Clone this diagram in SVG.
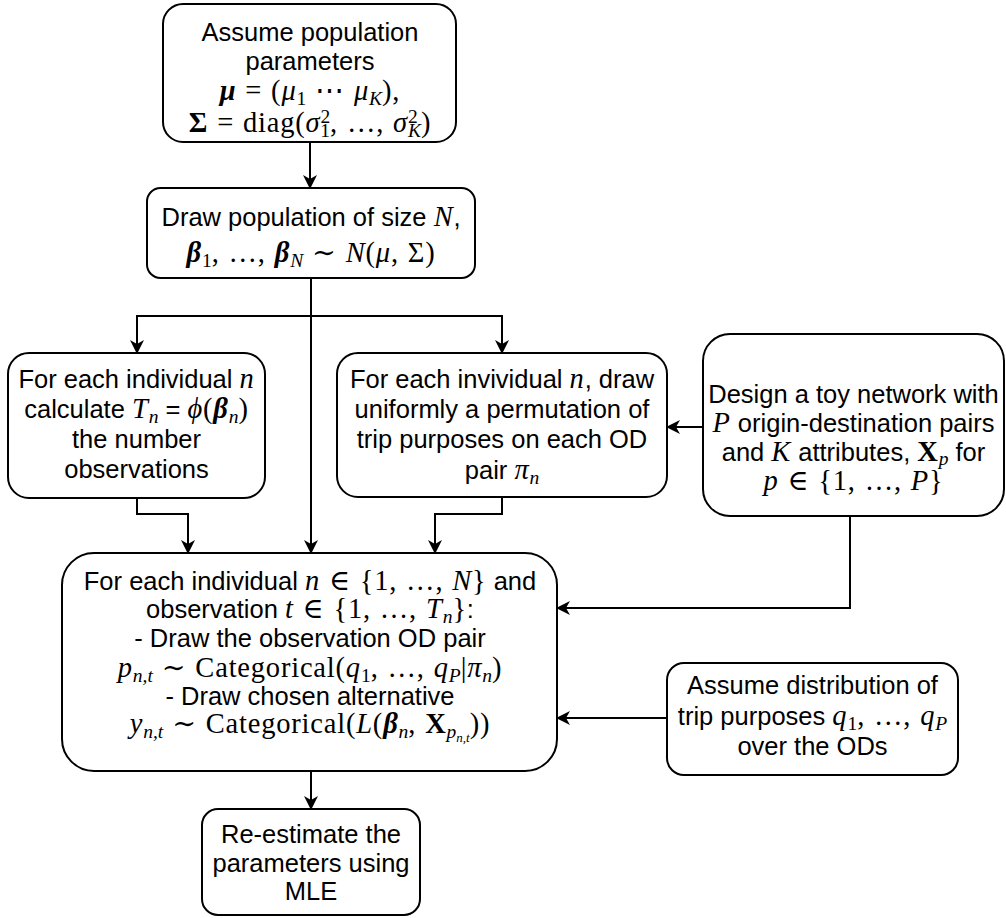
<svg xmlns="http://www.w3.org/2000/svg" width="1006" height="918" viewBox="0 0 1006 918">
<style>
.box{fill:#fff;stroke:#000;stroke-width:2}
.ln{fill:none;stroke:#000;stroke-width:2}
.t{font-family:"Liberation Sans",Arial,sans-serif;font-size:25.5px;fill:#000;text-anchor:middle}
.m{font-family:"Liberation Serif","DejaVu Serif",serif;font-size:28.5px;letter-spacing:0.8px;word-spacing:1px}
.i{font-style:italic}
.b{font-weight:bold}
.s{font-size:19.5px;letter-spacing:0}
</style>
<defs>
<marker id="arr" markerUnits="userSpaceOnUse" viewBox="0 0 14 14" markerWidth="14" markerHeight="14" refX="13" refY="7" orient="auto">
<path d="M0,0 L14,7 L0,14 L4,7 z" fill="#000"/>
</marker>
</defs>
<g id="connectors">
<path class="ln" d="M310,142 V188" marker-end="url(#arr)"/>
<path class="ln" d="M311,278 V553" marker-end="url(#arr)"/>
<path class="ln" d="M311,316 H137 V353" marker-end="url(#arr)"/>
<path class="ln" d="M311,316 H502 V353" marker-end="url(#arr)"/>
<path class="ln" d="M137,498 V514 H188 V553" marker-end="url(#arr)"/>
<path class="ln" d="M502,497 V514 H435 V553" marker-end="url(#arr)"/>
<path class="ln" d="M703,427 H667" marker-end="url(#arr)"/>
<path class="ln" d="M850,516 V608 H557" marker-end="url(#arr)"/>
<path class="ln" d="M667,718 H557" marker-end="url(#arr)"/>
<path class="ln" d="M311,771 V809" marker-end="url(#arr)"/>
</g>
<g id="n-assume">
<rect class="box" x="163" y="4" width="293" height="138" rx="20" ry="20"/>
<text class="t" x="310" y="41">Assume population</text>
<text class="t" x="310" y="70">parameters</text>
<text class="t m" x="310" y="100"><tspan class="i b">μ</tspan> = (<tspan class="i">μ</tspan><tspan class="s" dy="5">1</tspan><tspan dy="-5"> ⋯ </tspan><tspan class="i">μ</tspan><tspan class="s i" dy="5">K</tspan><tspan dy="-5">),</tspan></text>
<text class="t m" x="310" y="132"><tspan class="b">Σ</tspan> = diag(<tspan class="i">σ</tspan><tspan class="s" dy="-9">2</tspan><tspan class="s" dx="-9.8" dy="14">1</tspan><tspan dy="-5">, …, </tspan><tspan class="i">σ</tspan><tspan class="s" dy="-9">2</tspan><tspan class="s i" dx="-9.8" dy="14">K</tspan><tspan dy="-5">)</tspan></text>
</g>
<g id="n-draw">
<rect class="box" x="147" y="188" width="328" height="90" rx="13.5" ry="13.5"/>
<text class="t" x="311" y="226">Draw population of size <tspan class="m i">N</tspan>,</text>
<text class="t m" x="311" y="262"><tspan class="i b">β</tspan><tspan class="s" dy="5">1</tspan><tspan dy="-5">, …, </tspan><tspan class="i b">β</tspan><tspan class="s i" dy="5">N</tspan><tspan dy="-5"> ∼ </tspan><tspan class="i">N</tspan>(<tspan class="i">μ</tspan>, Σ)</text>
</g>
<g id="n-calc">
<rect class="box" x="8" y="353" width="257" height="145" rx="21" ry="21"/>
<text class="t" x="136.5" y="388">For each individual <tspan class="m i">n</tspan></text>
<text class="t" x="136.5" y="418">calculate <tspan class="m i">T</tspan><tspan class="m i s" dy="5">n</tspan><tspan dy="-5"> = </tspan><tspan class="m i">ϕ</tspan><tspan class="m">(</tspan><tspan class="m i b">β</tspan><tspan class="m i s" dy="5">n</tspan><tspan class="m" dy="-5">)</tspan></text>
<text class="t" x="136.5" y="448">the number</text>
<text class="t" x="136.5" y="478">observations</text>
</g>
<g id="n-perm">
<rect class="box" x="337" y="353" width="330" height="144" rx="21" ry="21"/>
<text class="t" x="502" y="388">For each invividual <tspan class="m i">n</tspan>, draw</text>
<text class="t" x="502" y="418">uniformly a permutation of</text>
<text class="t" x="502" y="448">trip purposes on each OD</text>
<text class="t" x="502" y="479">pair <tspan class="m i">π</tspan><tspan class="m i s" dy="5">n</tspan></text>
</g>
<g id="n-network">
<rect class="box" x="703" y="334" width="301" height="182" rx="27" ry="27"/>
<text class="t" x="853.5" y="403">Design a toy network with</text>
<text class="t" x="853.5" y="432"><tspan class="m i">P</tspan> origin-destination pairs</text>
<text class="t" x="853.5" y="461">and <tspan class="m i">K</tspan> attributes, <tspan class="m b">X</tspan><tspan class="m i s" dy="4">p</tspan><tspan dy="-4"> for</tspan></text>
<text class="t m" x="853.5" y="490"><tspan class="i">p</tspan> ∈ {1, …, <tspan class="i">P</tspan>}</text>
</g>
<g id="n-main">
<rect class="box" x="62" y="553" width="495" height="218" rx="32" ry="32"/>
<text class="t" x="310" y="590">For each individual <tspan class="m i">n</tspan><tspan class="m"> ∈ {1, …, </tspan><tspan class="m i">N</tspan><tspan class="m">}</tspan> and</text>
<text class="t" x="310" y="618">observation <tspan class="m i">t</tspan><tspan class="m"> ∈ {1, …, </tspan><tspan class="m i">T</tspan><tspan class="m i s" dy="5">n</tspan><tspan class="m" dy="-5">}</tspan>:</text>
<text class="t" x="310" y="647">- Draw the observation OD pair</text>
<text class="t m" x="310" y="677"><tspan class="i">p</tspan><tspan class="s i" dy="5">n,t</tspan><tspan dy="-5"> ∼ Categorical(</tspan><tspan class="i">q</tspan><tspan class="s" dy="5">1</tspan><tspan dy="-5">, …, </tspan><tspan class="i">q</tspan><tspan class="s i" dy="5">P</tspan><tspan dy="-5">|</tspan><tspan class="i">π</tspan><tspan class="s i" dy="5">n</tspan><tspan dy="-5">)</tspan></text>
<text class="t" x="310" y="705">- Draw chosen alternative</text>
<text class="t m" x="310" y="733"><tspan class="i">y</tspan><tspan class="s i" dy="5">n,t</tspan><tspan dy="-5"> ∼ Categorical(</tspan><tspan class="i">L</tspan>(<tspan class="i b">β</tspan><tspan class="s i" dy="5">n</tspan><tspan dy="-5">, </tspan><tspan class="b">X</tspan><tspan class="s i" dy="5">p</tspan><tspan class="i" style="font-size:13px;letter-spacing:0" dy="4">n,t</tspan><tspan dy="-9">))</tspan></text>
</g>
<g id="n-dist">
<rect class="box" x="667" y="663" width="291" height="112" rx="17" ry="17"/>
<text class="t" x="812.5" y="694">Assume distribution of</text>
<text class="t" x="812.5" y="725">trip purposes <tspan class="m i">q</tspan><tspan class="m s" dy="5">1</tspan><tspan class="m" dy="-5">, …, </tspan><tspan class="m i">q</tspan><tspan class="m i s" dy="5">P</tspan></text>
<text class="t" x="812.5" y="755">over the ODs</text>
</g>
<g id="n-mle">
<rect class="box" x="202" y="809" width="218" height="106" rx="16" ry="16"/>
<text class="t" x="311" y="843">Re-estimate the</text>
<text class="t" x="311" y="872">parameters using</text>
<text class="t" x="311" y="900">MLE</text>
</g>
</svg>
